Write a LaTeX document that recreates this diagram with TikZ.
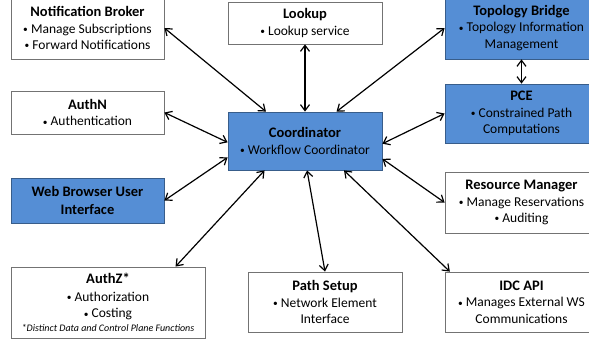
\documentclass[tikz,border=0pt]{standalone}
\usepackage{fontspec}
\setmainfont{Carlito}
\usetikzlibrary{arrows.meta,positioning}
\definecolor{boxblue}{HTML}{558ED5}
\definecolor{boxline}{HTML}{385D8A}
\newcommand{\boxtitle}[1]{{\fontsize{14.5}{16}\selectfont\bfseries #1}}
\newcommand{\bul}{\raisebox{0.1ex}{\scalebox{0.7}{\textbullet}}~}

\begin{document}
\begin{tikzpicture}[x=1pt,y=-1pt,
	svc/.style={draw=black!55, line width=0.8pt, fill=white, align=center, inner sep=2pt, minimum width=153pt, font=\fontsize{13.5}{16.5}\selectfont},
	hl/.style={svc, fill=boxblue, draw=boxline},
	link/.style={{Straight Barb[length=6pt,width=9pt]}-{Straight Barb[length=6pt,width=9pt]}, line width=1.2pt}]
	\useasboundingbox (0,0) rectangle (589,343);
	\node[svc, minimum height=62pt] (nb) at (87.5,28) {\boxtitle{Notification Broker}\\ \bul Manage Subscriptions\\ \bul Forward Notifications};
	\node[svc, minimum height=42pt, minimum width=154pt] (lookup) at (305,23) {\boxtitle{Lookup}\\ \bul Lookup service};
	\node[hl, minimum height=62pt] (tb) at (521.5,28) {\boxtitle{Topology Bridge}\\ \bul Topology Information\\ Management};
	\node[hl, minimum height=59pt] (pce) at (521.5,113.5) {\boxtitle{PCE}\\ \bul Constrained Path\\ Computations};
	\node[svc, minimum height=43pt] (authn) at (87.5,112.5) {\boxtitle{AuthN}\\ \bul Authentication};
	\node[hl, minimum height=58pt, minimum width=154pt] (coord) at (305,141) {\boxtitle{Coordinator}\\ \bul Workflow Coordinator};
	\node[hl, minimum height=45pt] (web) at (87.5,200.5) {\boxtitle{Web Browser User}\\[2pt] \boxtitle{Interface}};
	\node[svc, minimum height=61pt] (rm) at (521.5,202.5) {\boxtitle{Resource Manager}\\ \bul Manage Reservations\\ \bul Auditing};
	\node[svc, minimum height=71pt, minimum width=194pt] (authz) at (108,302.5) {\boxtitle{AuthZ*}\\[1pt] \bul Authorization\\ \bul Costing\\[-3pt] {\fontsize{10}{12}\selectfont\itshape *Distinct Data and Control Plane Functions}};
	\node[svc, minimum height=60pt, minimum width=154pt] (ps) at (325,302) {\boxtitle{Path Setup}\\ \bul Network Element\\ Interface};
	\node[svc, minimum height=60pt] (idc) at (521.5,302) {\boxtitle{IDC API}\\ \bul Manages External WS\\ Communications};

	\draw[link] (nb.east) -- (coord.143);
	\draw[link] (lookup.south) -- (coord.north);
	\draw[link] (tb.west) -- (coord.43);
	\draw[link] (tb.south) -- (pce.north);
	\draw[link] (pce.west) -- (coord.358);
	\draw[link] (authn.east) -- (coord.181);
	\draw[link] (web.east) -- (coord.192);
	\draw[link] (rm.west) -- (coord.347);
	\draw[link] (authz.28) -- (coord.216);
	\draw[link] (ps.north) -- (coord.274);
	\draw[link] (idc.157) -- (coord.323);
\end{tikzpicture}
\end{document}
